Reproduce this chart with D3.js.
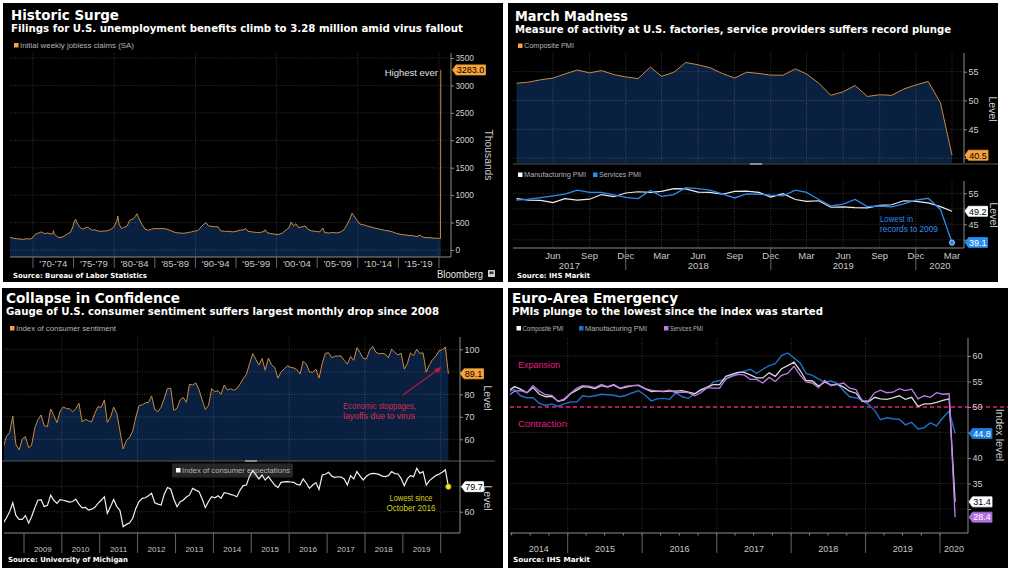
<!DOCTYPE html>
<html><head><meta charset="utf-8">
<script src="https://cdn.jsdelivr.net/npm/d3@7"></script>
<style>body{margin:0;background:#fff;}svg{display:block;}</style>
</head><body>
<script>
// ================= DATA =================
// Panel 1: initial weekly jobless claims (thousands)
const claimsYears = [
 1967.0,1967.3,1967.6,1968.0,1968.4,1968.8,1969.2,1969.6,1969.9,
 1970.3,1970.7,1971.0,1971.4,1971.8,1972.2,1972.45,1972.52,1972.6,1972.9,1973.2,1973.6,1973.9,1974.3,1974.6,1974.9,1975.1,1975.25,1975.5,1975.8,1976.1,1976.4,1976.7,1977.0,1977.3,1977.6,1977.9,1978.3,1978.7,1979.1,1979.5,1979.9,
 1980.3,1980.45,1980.6,1980.9,1981.2,1981.6,1981.9,1982.2,1982.5,1982.8,1983.0,1983.4,1983.8,1984.2,1984.6,1985.0,1985.5,1986.0,1986.5,1987.0,1987.5,1988.0,1988.5,1989.0,1989.5,1989.9,
 1990.3,1990.7,1991.1,1991.3,1991.6,1992.0,1992.5,1992.8,1993.1,1993.6,1994.1,1994.6,1995.0,1995.5,1996.0,1996.2,1996.5,1997.0,1997.5,1998.0,1998.5,1998.6,1998.8,1999.2,1999.7,
 2000.2,2000.7,2001.2,2001.5,2001.8,2002.1,2002.4,2002.7,2003.1,2003.5,2003.8,2004.3,2004.8,2005.3,2005.7,2005.9,2006.4,2006.9,2007.4,2007.9,2008.3,2008.7,2009.0,2009.3,2009.5,2009.8,
 2010.3,2010.7,2011.1,2011.6,2012.1,2012.7,2013.3,2013.9,2014.3,2014.8,2015.3,2015.8,2016.3,2016.8,2017.3,2017.7,2017.9,2018.4,2018.9,2019.4,2019.9,2020.19,2020.22];
const claimsValues = [
 240,225,215,205,200,195,205,200,215,
 290,310,330,300,310,290,300,355,290,255,225,235,260,300,320,420,530,560,470,410,380,400,415,390,360,370,350,340,345,350,370,410,
 520,620,470,390,410,440,540,560,590,660,590,470,380,360,380,390,390,390,380,350,320,310,305,315,330,345,
 355,420,480,500,440,430,425,420,350,340,340,330,340,360,370,390,340,330,320,320,340,370,320,300,290,
 280,310,370,400,510,440,480,410,420,440,380,350,340,330,400,320,310,320,310,330,370,470,560,670,630,560,
 470,460,440,420,400,380,360,345,330,300,285,275,265,260,245,270,240,225,225,215,215,211,3283];
const claimsTicks = [0,500,1000,1500,2000,2500,3000,3500];
const claimsBins = ["'70-'74","'75-'79","'80-'84","'85-'89","'90-'94","'95-'99","'00-'04","'05-'09","'10-'14","'15-'19"];

// Panel 2: U.S. PMIs, monthly Mar 2017 - Mar 2020
const usComposite = [53.0,53.2,53.6,53.9,54.6,55.3,54.8,55.2,54.5,54.1,53.8,55.8,54.2,54.9,56.6,56.2,55.7,54.7,53.9,54.9,54.7,54.4,54.4,55.5,54.6,53.0,50.9,51.5,52.6,50.7,51.0,50.9,52.0,52.7,53.3,49.6,40.5];
const usManufacturing = [53.3,52.8,52.7,52.0,53.3,52.8,53.1,54.6,53.9,55.1,55.5,55.3,55.6,56.5,56.4,55.4,55.3,54.7,55.6,55.7,55.3,53.8,54.9,53.0,52.4,52.6,50.5,50.6,50.4,50.3,51.1,51.3,52.6,52.4,51.9,50.7,49.2];
const usServices = [52.8,53.1,53.6,54.2,54.7,56.0,55.3,55.3,54.5,53.7,53.3,55.9,54.0,54.6,56.8,56.5,56.0,54.8,53.5,54.8,54.7,54.4,54.2,56.0,55.3,53.0,50.9,51.5,53.0,50.7,50.9,50.6,51.6,52.8,53.4,49.8,39.1];
const usYearLabels = ["2017","2018","2019","2020"];
const usTopTicks = [40,45,50,55];
const usBottomTicks = [40,45,50,55];

// Panel 3: University of Michigan, monthly Jun 2008 - Mar 2020
const consumerSentiment = [
 56.4,61.2,63.0,70.3,57.6,55.3,60.1,
 61.2,56.3,57.3,65.1,68.7,70.8,66.0,65.7,73.5,70.6,67.4,72.5,
 74.4,73.6,73.6,72.2,73.6,76.0,67.8,68.9,68.2,67.7,71.6,74.5,
 74.2,77.5,67.5,69.8,74.3,71.5,63.7,55.7,59.5,60.8,63.7,69.9,
 75.0,75.3,76.2,76.4,79.3,73.2,72.3,74.3,78.3,82.6,82.7,72.9,
 73.8,77.6,78.6,76.4,84.5,84.1,85.1,82.1,77.5,73.2,75.1,82.5,
 81.2,81.6,80.0,84.1,81.9,82.5,81.8,82.5,84.6,86.9,88.8,93.6,
 98.1,95.4,93.0,95.9,90.7,96.1,93.1,91.9,87.2,90.0,91.3,92.6,
 92.0,91.7,91.0,89.0,94.7,93.5,90.0,89.8,91.2,87.2,93.8,98.2,
 98.5,96.3,96.9,97.0,97.1,95.1,93.4,96.8,95.1,100.7,98.5,95.9,
 95.7,99.7,101.4,98.8,98.0,98.2,97.9,96.2,100.1,98.6,97.5,98.3,
 91.2,93.8,98.4,97.2,100.0,98.2,98.4,89.8,93.2,95.5,96.8,99.3,
 99.8,101.0,89.1];
const consumerExpectations = [
 51,55,60,67,57,54,54,
 57,51,56,63,69,69.5,64,65,73,69,66.6,69.5,
 69,68.3,67.5,68,69.9,66,63,63.4,61.3,62,63.5,66.5,
 69,71.8,58.7,64,69.6,64,61,48.2,50,51,54.8,62.6,
 68,70.5,71,72.5,74.5,67,66,65.3,74,79,77.9,70,
 63.9,67.8,69,71.5,73,78.4,77,75.8,70,63.2,68,71.8,
 71,72.6,70.5,75,74.5,73.7,73,71.8,77,80.5,81,88,
 92.3,88.9,85.8,88.9,85,87.6,84.2,81,78.9,83.1,83.5,83.7,
 83.4,83.1,81.5,81,85.8,82.4,78.4,81,82.9,77.6,88.9,89.5,
 91.0,88,87.1,87.5,87.3,85.8,81,88.4,85.8,91.6,88,85,
 88,89.7,90.2,90,89.4,88,87.6,88.4,91.6,90,89.7,86.3,
 80.5,86,88.4,87.6,94.2,90.2,91.6,81,84.5,86.5,88.4,89.5,
 91,92.9,79.7];
const michiganYears = [2009,2010,2011,2012,2013,2014,2015,2016,2017,2018,2019];
const sentimentTicks = [60,70,80,90,100];
const expectationTicks = [60,80];

// Panel 4: Euro-area PMIs, monthly Mar 2014 - Mar 2020
const euComposite = [53.1,54.0,53.5,52.8,53.8,52.5,52.0,52.1,51.1,51.4,
 52.6,53.3,54.0,53.9,53.6,54.2,53.9,54.3,53.6,53.9,54.2,54.3,
 53.6,53.0,53.1,53.0,53.1,53.1,53.2,52.9,52.6,53.3,53.9,54.4,
 54.4,56.0,56.4,56.8,56.8,56.3,55.7,55.7,56.7,56.0,57.5,58.1,
 58.8,57.1,55.2,55.1,54.1,54.9,54.3,54.5,53.9,53.1,52.7,51.1,
 51.0,51.9,51.6,51.5,51.8,52.2,51.5,51.9,50.1,50.6,50.6,50.9,
 51.3,51.6,31.4];
const euManufacturing = [53.0,53.4,52.2,51.8,51.8,50.7,50.3,50.6,50.1,50.6,
 51.0,51.0,52.2,52.0,52.2,52.5,52.4,52.3,52.0,52.3,52.8,53.2,
 52.3,51.2,51.6,51.7,51.5,52.8,52.0,51.7,52.6,53.5,53.7,54.9,
 55.2,55.4,56.2,56.7,57.0,57.4,56.6,57.4,58.1,58.5,60.1,60.6,
 59.6,58.6,56.6,56.2,55.5,54.9,55.1,54.6,53.2,52.0,51.8,51.4,
 50.5,49.3,47.5,47.9,47.7,47.6,46.5,47.0,45.7,45.9,46.9,46.3,
 47.9,49.2,44.8];
const euServices = [52.2,53.1,53.2,52.8,54.2,53.1,52.4,52.3,51.1,51.6,
 52.7,53.7,54.2,54.1,53.8,54.4,54.0,54.4,53.7,54.1,54.2,54.2,
 53.6,53.3,53.1,53.1,53.3,52.8,52.9,52.8,52.2,52.8,53.8,53.7,
 53.7,55.5,56.0,56.4,56.3,55.4,55.4,54.7,55.8,55.0,56.2,56.6,
 58.0,56.2,54.9,54.7,53.8,55.2,54.2,54.4,54.7,53.7,53.4,51.2,
 51.2,52.8,53.3,52.8,52.9,53.6,53.2,53.5,51.6,52.2,51.9,52.8,
 52.5,52.6,28.4];
const euYearLabels = ["2014","2015","2016","2017","2018","2019","2020"];
const euTicks = [30,35,40,45,50,55,60];

// ================= DRAWING =================
const W=1014,H=575;
const SANS="'Liberation Sans', Arial, sans-serif";
const BOLD="'DejaVu Sans', Verdana, sans-serif";
const GRID="rgba(255,255,255,0.2)";
const AREA="#0a2040";
const ORANGE="#f5a33a", ORANGE_LINE="#c98a3f";
const BLUE_US="#2a8cf0", BLUE_EU="#1f72cc", PURPLE="#c07be8", PINK="#e0207f";

const svg=d3.select('body').append('svg').attr('width',W).attr('height',H);
svg.append('rect').attr('width',W).attr('height',H).attr('fill','#fff');
const defs=svg.append('defs');
defs.append('marker').attr('id','arr').attr('viewBox','0 0 10 10').attr('refX',9).attr('refY',5)
  .attr('markerWidth',6).attr('markerHeight',6).attr('orient','auto')
  .append('path').attr('d','M0,1L10,5L0,9Z').attr('fill','#b01c3a');

function txt(g,x,y,s,o={}){
  const t=g.append('text').attr('x',x).attr('y',y).text(s)
    .attr('font-family',o.ff||SANS).attr('font-size',o.fs||9).attr('fill',o.fill||'#c8c8c8');
  if(o.fw) t.attr('font-weight',o.fw);
  if(o.anchor) t.attr('text-anchor',o.anchor);
  if(o.len) t.attr('textLength',o.len).attr('lengthAdjust','spacingAndGlyphs');
  return t;
}
function panel(x,y,w,h){
  const g=svg.append('g');
  g.append('rect').attr('x',x).attr('y',y).attr('width',w).attr('height',h).attr('fill','#000');
  return g;
}
let clipN=0;
function clip(x,y,w,h){
  const id='cp'+(clipN++);
  defs.append('clipPath').attr('id',id).append('rect').attr('x',x).attr('y',y).attr('width',w).attr('height',h);
  return `url(#${id})`;
}
function headers(g,x,y,title,tl,sub,sl){
  txt(g,x,y,title,{ff:BOLD,fw:'bold',fs:13.5,fill:'#fff',len:tl});
  txt(g,x,y+12.2,sub,{ff:BOLD,fw:'bold',fs:9.6,fill:'#fff',len:sl});
}
function legendItem(g,x,y,color,label,len){
  g.append('rect').attr('x',x).attr('y',y).attr('width',4.5).attr('height',4.5).attr('fill',color);
  txt(g,x+6,y+4.8,label,{fs:7.8,fill:'#b4b4b4',len});
}
function hgrid(g,ys,vals,x0,x1){
  g.append('g').selectAll('line').data(vals).join('line')
    .attr('x1',x0).attr('x2',x1).attr('y1',d=>ys(d)).attr('y2',d=>ys(d))
    .attr('stroke',GRID).attr('stroke-dasharray','1,1.5');
}
function vgrid(g,xs,vals,y0,y1){
  g.append('g').selectAll('line').data(vals).join('line')
    .attr('x1',d=>xs(d)).attr('x2',d=>xs(d)).attr('y1',y0).attr('y2',y1)
    .attr('stroke',GRID).attr('stroke-dasharray','1,1.5');
}
// hidden: tick values whose label sits under a last-value flag (as in the reference)
function yAxis(g,ys,x,vals,y0,y1,fs=9,hidden=[]){
  g.append('line').attr('x1',x).attr('x2',x).attr('y1',y0).attr('y2',y1).attr('stroke','#8a8a8a');
  const a=g.append('g').attr('transform',`translate(${x},0)`)
    .call(d3.axisRight(ys).tickValues(vals).tickSize(3).tickPadding(1.5)
      .tickFormat(d=>hidden.includes(d)?'':d3.format('d')(d)));
  a.select('.domain').remove();
  a.selectAll('line').attr('stroke','#8a8a8a');
  a.selectAll('text').attr('fill','#cfcfcf').attr('font-size',fs).attr('font-family',SANS);
}
function flag(g,x,yc,w,label,bg,fg){
  const h=10;
  g.append('path').attr('d',`M${x},${yc}L${x+3.5},${yc-h/2}H${x+w}V${yc+h/2}H${x+3.5}Z`)
    .attr('fill',bg).attr('stroke',bg).attr('stroke-width',0.8).attr('stroke-linejoin','round');
  txt(g,x+3+(w-3)/2,yc+3.3,label,{fs:9,fill:fg,anchor:'middle'});
}
function rotLabel(g,x,y,s,fs=10.5){
  g.append('text').attr('transform',`translate(${x},${y}) rotate(90)`).attr('text-anchor','middle')
    .attr('dy','0.35em').attr('font-family',SANS).attr('font-size',fs).attr('fill','#c8c8c8').text(s);
}
function source(g,x,y,s,len){ txt(g,x,y,s,{ff:BOLD,fw:'bold',fs:7,fill:'#fff',len}); }
function hline(g,x0,x1,y,c){ g.append('line').attr('x1',x0).attr('x2',x1).attr('y1',y).attr('y2',y).attr('stroke',c); }
const f1=d3.format('.1f');

// ---------- Panel 1 ----------
{
  const g=panel(3,3,500,279);
  headers(g,11,20,'Historic Surge',108,'Filings for U.S. unemployment benefits climb to 3.28 million amid virus fallout',452);
  legendItem(g,14,43,ORANGE,'Initial weekly jobless claims (SA)',114);
  const L=10,R=451,T=53,B=257;
  const xs=d3.scaleLinear().domain([1970,2020]).range([33,439]);
  const ys=d3.scaleLinear().domain([0,3500]).range([250,58]);
  const cp=clip(L,T,R-L,B-T);
  const pts=claimsYears.map((y,i)=>[y,claimsValues[i]]);
  g.append('path').datum(pts).attr('clip-path',cp).attr('fill',AREA)
    .attr('d',d3.area().x(d=>xs(d[0])).y0(B).y1(d=>ys(d[1])));
  hgrid(g,ys,claimsTicks,L,R);
  vgrid(g,xs,[1970,1980,1990,2000,2010,2020],T,B);
  g.append('path').datum(pts).attr('clip-path',cp).attr('fill','none').attr('stroke',ORANGE_LINE).attr('stroke-width',1)
    .attr('d',d3.line().x(d=>xs(d[0])).y(d=>ys(d[1])));
  yAxis(g,ys,R,claimsTicks,T,B,8.3);
  hline(g,L,R,B,'#8a8a8a');
  const seps=d3.range(1970,2021,5);
  g.append('g').selectAll('line').data(seps).join('line')
    .attr('x1',d=>xs(d)).attr('x2',d=>xs(d)).attr('y1',B).attr('y2',B+11).attr('stroke','#666');
  claimsBins.forEach((s,i)=>txt(g,xs(1972.5+5*i),266.5,s,{fs:9.5,anchor:'middle'}));
  rotLabel(g,489,155,'Thousands',10.3);
  const last=claimsValues[claimsValues.length-1];
  flag(g,R+1.5,ys(last),33,f1(last),ORANGE,'#000');
  txt(g,438,75.5,'Highest ever',{fs:9.5,fill:'#e0e0e0',anchor:'end'});
  source(g,13,277.5,'Source: Bureau of Labor Statistics',134);
  txt(g,437,277.5,'Bloomberg',{fs:10,fill:'#e6e6e6',len:46});
  g.append('rect').attr('x',488).attr('y',270).attr('width',7).attr('height',7).attr('fill','#cfcfcf');
  g.append('rect').attr('x',489.5).attr('y',271.5).attr('width',4).attr('height',2.5).attr('fill','#333');
}

// ---------- Panel 2 ----------
{
  const g=panel(508,3,490,279);
  headers(g,515,20.6,'March Madness',113,'Measure of activity at U.S. factories, service providers suffers record plunge',436);
  legendItem(g,518,43.5,ORANGE,'Composite PMI',50);
  const L=513,R=964;
  const xs=d3.scaleTime().domain([new Date(2017,5,1),new Date(2020,2,1)]).range([553,952]);
  const dates=usComposite.map((_,i)=>new Date(2017,2+i,1));
  const qt=d3.timeMonth.range(new Date(2017,5,1),new Date(2020,3,1),3);
  // top
  const T=53,B=163;
  const ysT=d3.scaleLinear().domain([45,55]).range([129.3,71.7]);
  const cpT=clip(L,T,R-L,B-T);
  g.append('path').datum(usComposite).attr('clip-path',cpT).attr('fill',AREA)
    .attr('d',d3.area().x((d,i)=>xs(dates[i])).y0(B).y1(d=>ysT(d)));
  hgrid(g,ysT,usTopTicks,L,R);
  vgrid(g,xs,qt,T,B);
  g.append('path').datum(usComposite).attr('clip-path',cpT).attr('fill','none').attr('stroke',ORANGE_LINE).attr('stroke-width',1)
    .attr('d',d3.line().x((d,i)=>xs(dates[i])).y(d=>ysT(d)));
  yAxis(g,ysT,R,usTopTicks,T,B,9,[40]);
  rotLabel(g,993,109,'Level');
  hline(g,L,998,164,'#555');
  g.append('rect').attr('x',750).attr('y',163).attr('width',12).attr('height',2).attr('fill','#8a8a8a');
  const lc=usComposite[usComposite.length-1];
  flag(g,R+1,ysT(lc),23,f1(lc),ORANGE,'#000');
  // bottom
  legendItem(g,518,172.5,'#fff','Manufacturing PMI',62);
  legendItem(g,593,172.5,BLUE_US,'Services PMI',42);
  const T2=181,B2=248;
  const ysB=d3.scaleLinear().domain([45,55]).range([224.3,193.3]);
  const cpB=clip(L,T2,R-L+3,B2-T2);
  hgrid(g,ysB,usBottomTicks,L,R);
  vgrid(g,xs,qt,T2,B2);
  g.append('path').datum(usManufacturing).attr('clip-path',cpB).attr('fill','none').attr('stroke','#ececec').attr('stroke-width',1.2)
    .attr('d',d3.line().x((d,i)=>xs(dates[i])).y(d=>ysB(d)));
  g.append('path').datum(usServices).attr('clip-path',cpB).attr('fill','none').attr('stroke',BLUE_US).attr('stroke-width',1.3)
    .attr('d',d3.line().x((d,i)=>xs(dates[i])).y(d=>ysB(d)));
  yAxis(g,ysB,R,usBottomTicks,T2,B2,9,[40,50]);
  hline(g,L,R,B2,'#8a8a8a');
  qt.forEach(d=>txt(g,xs(d),258.5,d3.timeFormat('%b')(d),{fs:9.5,anchor:'middle'}));
  const decs=qt.filter(d=>d.getMonth()===11);
  g.append('g').selectAll('line').data(decs).join('line')
    .attr('x1',d=>xs(d)).attr('x2',d=>xs(d)).attr('y1',B2).attr('y2',270).attr('stroke','#666');
  const bounds=[L,...decs.map(d=>xs(d)),R];
  usYearLabels.forEach((s,i)=>txt(g,(bounds[i]+bounds[i+1])/2,268.8,s,{fs:9.5,anchor:'middle'}));
  rotLabel(g,994,215,'Level');
  const lm=usManufacturing[usManufacturing.length-1], ls=usServices[usServices.length-1];
  const lastD=dates[dates.length-1];
  g.append('circle').attr('cx',xs(lastD)).attr('cy',ysB(ls)).attr('r',2.6).attr('fill',BLUE_US).attr('stroke','#a8d0fa').attr('stroke-width',0.9);
  txt(g,880,221.5,'Lowest in',{fs:9,fill:BLUE_US,len:33});
  txt(g,880,231.5,'records to 2009',{fs:9,fill:BLUE_US,len:58});
  flag(g,R+1,ysB(lm),22.5,f1(lm),'#fff','#000');
  flag(g,R+1,ysB(ls),22.5,f1(ls),BLUE_US,'#fff');
  source(g,517,277.5,'Source: IHS Markit',73);
}

// ---------- Panel 3 ----------
{
  const g=panel(2,288,501,280);
  headers(g,6,303,'Collapse in Confidence',174,'Gauge of U.S. consumer sentiment suffers largest monthly drop since 2008',433);
  legendItem(g,10,326,ORANGE,'Index of consumer sentiment',100);
  const L=4,R=460;
  const xs=d3.scaleTime().domain([new Date(2009,0,1),new Date(2020,0,1)]).range([24,440.7]);
  const dates=consumerSentiment.map((_,i)=>new Date(2008,5+i,15));
  const evenYears=d3.range(2010,2021,2).map(y=>new Date(y,0,1));
  // top
  const T=337,B=461;
  const ysT=d3.scaleLinear().domain([60,100]).range([439.3,349.3]);
  const cpT=clip(L,T,R-L,B-T);
  g.append('path').datum(consumerSentiment).attr('clip-path',cpT).attr('fill',AREA)
    .attr('d',d3.area().x((d,i)=>xs(dates[i])).y0(B).y1(d=>ysT(d)));
  hgrid(g,ysT,sentimentTicks,L,R);
  vgrid(g,xs,evenYears,T,533);
  g.append('path').datum(consumerSentiment).attr('clip-path',cpT).attr('fill','none').attr('stroke',ORANGE_LINE).attr('stroke-width',1)
    .attr('d',d3.line().x((d,i)=>xs(dates[i])).y(d=>ysT(d)));
  yAxis(g,ysT,R,sentimentTicks,T,B,9,[90]);
  rotLabel(g,488,398,'Level');
  hline(g,2,495,461,'#555');
  g.append('rect').attr('x',245).attr('y',460).attr('width',12).attr('height',2).attr('fill','#8a8a8a');
  // annotation
  g.append('line').attr('x1',403).attr('y1',395).attr('x2',441).attr('y2',367.5)
    .attr('stroke','#b01c3a').attr('stroke-width',1.2).attr('marker-end','url(#arr)');
  txt(g,343,409,'Economic stoppages,',{fs:9,fill:'#d42a55',len:73});
  txt(g,343,419,'layoffs due to virus',{fs:9,fill:'#d42a55',len:72});
  const lsent=consumerSentiment[consumerSentiment.length-1];
  flag(g,R+0.5,ysT(lsent),23,f1(lsent),ORANGE,'#000');
  // bottom
  const T2=461,B2=533;
  const ysB=d3.scaleLinear().domain([60,80]).range([511.7,486.3]);
  const cpB=clip(L,T2,R-L+3,B2-T2);
  hgrid(g,ysB,expectationTicks,L,R);
  g.append('rect').attr('x',172).attr('y',463.5).attr('width',121).attr('height',14).attr('fill','#262626');
  legendItem(g,176,468,'#fff','Index of consumer expectations',108);
  g.append('path').datum(consumerExpectations).attr('clip-path',cpB).attr('fill','none').attr('stroke','#f0f0f0').attr('stroke-width',1.2)
    .attr('d',d3.line().x((d,i)=>xs(dates[i])).y(d=>ysB(d)));
  yAxis(g,ysB,R,expectationTicks,T2,B2,9,[80]);
  rotLabel(g,488,498,'Level');
  hline(g,L,R,B2,'#8a8a8a');
  const yearStarts=d3.range(2009,2021).map(y=>new Date(y,0,1));
  g.append('g').selectAll('line').data(yearStarts).join('line')
    .attr('x1',d=>xs(d)).attr('x2',d=>xs(d)).attr('y1',B2).attr('y2',553).attr('stroke','#666');
  michiganYears.forEach(y=>txt(g,xs(new Date(y,6,1)),551.5,String(y),{fs:8,anchor:'middle'}));
  const le=consumerExpectations[consumerExpectations.length-1];
  const lastD=dates[dates.length-1];
  g.append('circle').attr('cx',xs(lastD)).attr('cy',ysB(le)).attr('r',2.7).attr('fill','#ffe600').attr('stroke','#8a8a40').attr('stroke-width',0.8);
  txt(g,411,500.5,'Lowest since',{fs:8.5,fill:'#d8d21a',anchor:'middle',len:43});
  txt(g,411,510.5,'October 2016',{fs:8.5,fill:'#d8d21a',anchor:'middle',len:49});
  flag(g,R+1.5,ysB(le),22,f1(le),'#fff','#000');
  source(g,8,561.7,'Source: University of Michigan',120);
}

// ---------- Panel 4 ----------
{
  const g=panel(508,288,500,280);
  headers(g,512,303,'Euro-Area Emergency',166,'PMIs plunge to the lowest since the index was started',311);
  legendItem(g,516.5,326,'#fff','Composite PMI',41);
  legendItem(g,579,326,BLUE_EU,'Manufacturing PMI',62);
  legendItem(g,664,326,PURPLE,'Services PMI',33);
  const L=510,R=968,T=338,B=533;
  const xs=d3.scaleTime().domain([new Date(2015,0,1),new Date(2020,0,1)]).range([567.7,940]);
  const ys=d3.scaleLinear().domain([30,60]).range([509,356]);
  const dates=euComposite.map((_,i)=>new Date(2014,2+i,15));
  const yearStarts=d3.range(2015,2021).map(y=>new Date(y,0,1));
  const cp=clip(L,T,R-L+3,B-T);
  hgrid(g,ys,euTicks,L,R);
  vgrid(g,xs,yearStarts,T,B);
  g.append('line').attr('x1',L).attr('x2',1008).attr('y1',ys(50)).attr('y2',ys(50))
    .attr('stroke',PINK).attr('stroke-width',1.5).attr('stroke-dasharray','4,3');
  const line=d3.line().x((d,i)=>xs(dates[i])).y(d=>ys(d));
  g.append('path').datum(euManufacturing).attr('clip-path',cp).attr('fill','none').attr('stroke',BLUE_EU).attr('stroke-width',1.4).attr('d',line);
  g.append('path').datum(euComposite).attr('clip-path',cp).attr('fill','none').attr('stroke','#d8d8d8').attr('stroke-width',1.3).attr('d',line);
  g.append('path').datum(euServices).attr('clip-path',cp).attr('fill','none').attr('stroke',PURPLE).attr('stroke-width',1.3).attr('d',line);
  txt(g,518,368,'Expansion',{fs:9.3,fill:PINK,len:42});
  txt(g,518,427,'Contraction',{fs:9.3,fill:PINK,len:49});
  yAxis(g,ys,R,euTicks,T,B,9,[45,30]);
  hline(g,L,R,B,'#8a8a8a');
  const qt=d3.timeMonth.range(new Date(2014,3,1),new Date(2020,3,1),3);
  g.append('g').selectAll('line').data(qt).join('line')
    .attr('x1',d=>xs(d)).attr('x2',d=>xs(d)).attr('y1',B).attr('y2',B+2.5).attr('stroke','#888');
  g.append('g').selectAll('line').data(yearStarts).join('line')
    .attr('x1',d=>xs(d)).attr('x2',d=>xs(d)).attr('y1',B).attr('y2',553).attr('stroke','#666');
  const bounds=[L,...yearStarts.map(d=>xs(d)),R];
  euYearLabels.forEach((s,i)=>txt(g,(bounds[i]+bounds[i+1])/2,551.7,s,{fs:9,anchor:'middle'}));
  rotLabel(g,999.5,435,'Index level',11);
  const lm=euManufacturing[euManufacturing.length-1], lc=euComposite[euComposite.length-1], lsv=euServices[euServices.length-1];
  flag(g,R+1,ys(lm),23,f1(lm),'#1f7fe0','#fff');
  flag(g,R+1,ys(lc),23,f1(lc),'#fff','#000');
  flag(g,R+1,ys(lsv),23,f1(lsv),'#b36ee0','#fff');
  source(g,513,561.7,'Source: IHS Markit',77);
}
</script>
</body></html>
